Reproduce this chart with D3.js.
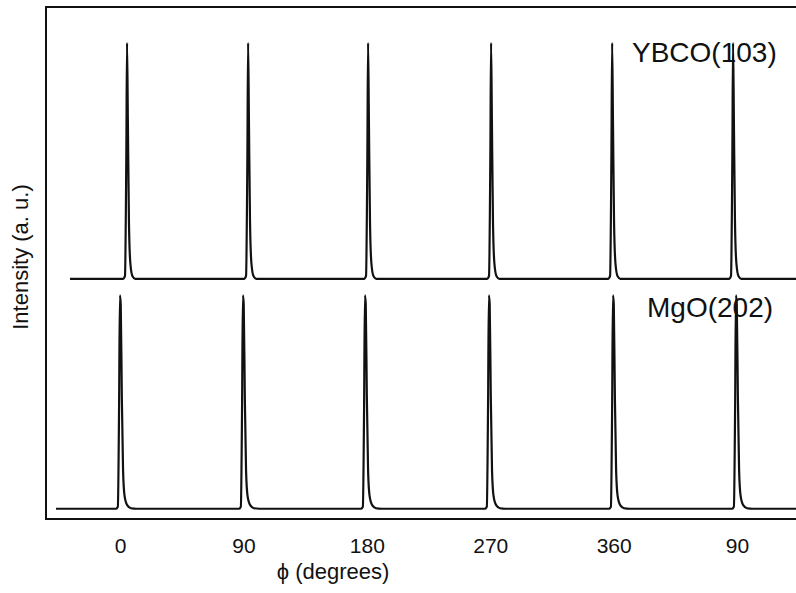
<!DOCTYPE html>
<html>
<head>
<meta charset="utf-8">
<script src="https://cdn.jsdelivr.net/npm/d3@7"></script>
<style>
  body { margin: 0; background: #fff; }
  text { font-family: "Liberation Sans", Arial, sans-serif; fill: #111; }
</style>
</head>
<body>
<svg width="796" height="593"></svg>
<script>
// phi tick positions and the labels printed under them
const tickPhi = [0, 90, 180, 270, 360, 450];
const tickLabels = ["0", "90", "180", "270", "360", "90"];

// YBCO(103) phi scan, [phi (deg), intensity (a.u., stacked)]
const ybco = [
  [-36.5, 46.9],
  [2.1, 46.9], [3.6, 47.5], [4.6, 72], [5.1, 93], [5.7, 78], [6.5, 58], [7.5, 50], [9.1, 47.4], [11.1, 46.9],
  [90.4, 46.9], [91.9, 47.5], [92.9, 72], [93.4, 93], [94, 78], [94.8, 58], [95.8, 50], [97.4, 47.4], [99.4, 46.9],
  [177.9, 46.9], [179.4, 47.5], [180.4, 72], [180.9, 93], [181.5, 78], [182.3, 58], [183.3, 50], [184.9, 47.4], [186.9, 46.9],
  [267.6, 46.9], [269.1, 47.5], [270.1, 72], [270.6, 93], [271.2, 78], [272, 58], [273, 50], [274.6, 47.4], [276.6, 46.9],
  [355.9, 46.9], [357.4, 47.5], [358.4, 72], [358.9, 93], [359.5, 78], [360.3, 58], [361.3, 50], [362.9, 47.4], [364.9, 46.9],
  [444.1, 46.9], [445.6, 47.5], [446.6, 72], [447.1, 93], [447.7, 78], [448.5, 58], [449.5, 50], [451.1, 47.4], [453.1, 46.9],
  [493, 46.9]
];

// MgO(202) phi scan
const mgo = [
  [-46.7, 2.0],
  [-3, 2.0], [-1.6, 2.4], [-0.7, 22], [-0.1, 43.7], [0.5, 42], [1.3, 24], [2.2, 9.5], [3.3, 4.5], [5.2, 2.7], [8, 2.1], [12, 2.0],
  [86.7, 2.0], [88.1, 2.4], [89, 22], [89.6, 43.7], [90.2, 42], [91, 24], [91.9, 9.5], [93, 4.5], [94.9, 2.7], [97.7, 2.1], [101.7, 2.0],
  [175.7, 2.0], [177.1, 2.4], [178, 22], [178.6, 43.7], [179.2, 42], [180, 24], [180.9, 9.5], [182, 4.5], [183.9, 2.7], [186.7, 2.1], [190.7, 2.0],
  [266.1, 2.0], [267.5, 2.4], [268.4, 22], [269, 43.7], [269.6, 42], [270.4, 24], [271.3, 9.5], [272.4, 4.5], [274.3, 2.7], [277.1, 2.1], [281.1, 2.0],
  [356.6, 2.0], [358, 2.4], [358.9, 22], [359.5, 43.7], [360.1, 42], [360.9, 24], [361.8, 9.5], [362.9, 4.5], [364.8, 2.7], [367.6, 2.1], [371.6, 2.0],
  [446.3, 2.0], [447.7, 2.4], [448.6, 22], [449.2, 43.7], [449.8, 42], [450.6, 24], [451.5, 9.5], [452.6, 4.5], [454.5, 2.7], [457.3, 2.1], [461.3, 2.0],
  [493, 2.0]
];

const svg = d3.select("svg");
const plotLeft = 46, plotRight = 796, plotTop = 7, plotBottom = 519;

const x = d3.scaleLinear().domain([-54, 493]).range([plotLeft, plotRight]);
const y = d3.scaleLinear().domain([0, 100]).range([plotBottom, plotTop]);

const line = d3.line()
  .x(d => x(d[0]))
  .y(d => y(d[1]))
  .curve(d3.curveMonotoneX);

// frame (open on the right, as in the scan)
svg.append("path")
  .attr("d", `M${plotRight},${plotTop}H${plotLeft}V${plotBottom}H${plotRight}`)
  .attr("fill", "none")
  .attr("stroke", "#111")
  .attr("stroke-width", 2);

const g = svg.append("g");
[ybco, mgo].forEach(series => {
  g.append("path")
    .attr("d", line(series))
    .attr("fill", "none")
    .attr("stroke", "#111")
    .attr("stroke-width", 2.2)
    .attr("stroke-linejoin", "round");
});

// x axis labels only, no tick marks
const xAxis = d3.axisBottom(x)
  .tickValues(tickPhi)
  .tickFormat((d, i) => tickLabels[i])
  .tickSize(0)
  .tickPadding(19);

const ax = svg.append("g")
  .attr("transform", `translate(0,${plotBottom})`)
  .call(xAxis);
ax.select(".domain").remove();
ax.selectAll("text")
  .attr("font-size", 21)
  .attr("font-family", "Liberation Sans, Arial, sans-serif")
  .attr("fill", "#111");

svg.append("text")
  .attr("x", 333)
  .attr("y", 579)
  .attr("text-anchor", "middle")
  .attr("font-size", 22)
  .text("ϕ (degrees)");

svg.append("text")
  .attr("transform", "translate(28,257) rotate(-90)")
  .attr("text-anchor", "middle")
  .attr("font-size", 22)
  .text("Intensity (a. u.)");

svg.append("text")
  .attr("x", 632)
  .attr("y", 62)
  .attr("font-size", 28)
  .text("YBCO(103)");

svg.append("text")
  .attr("x", 647)
  .attr("y", 317)
  .attr("font-size", 28)
  .text("MgO(202)");
</script>
</body>
</html>
